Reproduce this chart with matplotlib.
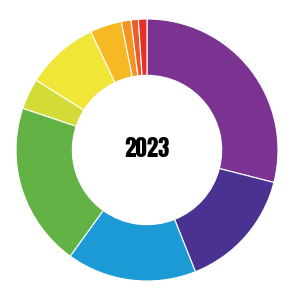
import matplotlib
matplotlib.use("Agg")
import matplotlib.pyplot as plt

labels = ["Purple", "Indigo", "Blue", "Green", "Yellow-green", "Yellow",
          "Amber", "Orange", "Orange-red", "Red"]
values = [29.0, 15.0, 16.0, 20.2, 3.8, 9.0, 3.9, 1.2, 0.9, 1.05]
colors = ["#7a3391", "#4a3291", "#1b9ad6", "#63b246", "#d3dc36", "#f0e638",
          "#f6b923", "#f29521", "#ee5b28", "#e4302a"]
center_text = "2023"

fig = plt.figure(figsize=(2.93, 3.0), dpi=100)
ax = fig.add_axes([0, 0, 1, 1])
ax.pie(values, colors=colors, startangle=90, counterclock=False,
       radius=1.0,
       wedgeprops=dict(width=0.43, edgecolor="white", linewidth=0.8))
ax.set_aspect("auto")
ax.set_xlim(-147/131, 146/131)
ax.set_ylim(-150/131, 150/131)
ax.axis("off")
ax.text(0, 0.02, center_text, ha="center", va="center_baseline", fontsize=16.5,
        family=["Anton", "DejaVu Sans"], color="black")
fig.savefig("out.png", dpi=100)
